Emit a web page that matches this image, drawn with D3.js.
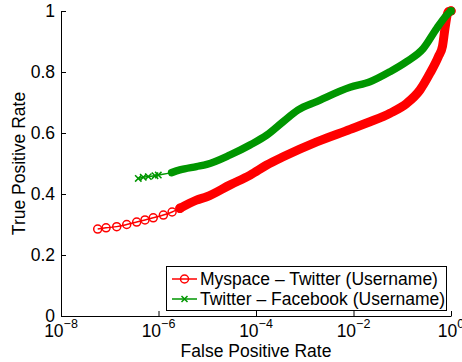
<!DOCTYPE html>
<html>
<head>
<meta charset="utf-8">
<script src="https://cdn.jsdelivr.net/npm/d3@7"></script>
<style>
  body { margin: 0; background: #fff; }
  text { font-family: "Liberation Sans", Arial, sans-serif; fill: #000; }
</style>
</head>
<body>
<div id="chart"></div>
<script>
// ROC curves (false positive rate, true positive rate)
const redFpr = [5.66e-8, 8.4e-8, 1.39e-7, 2.23e-7, 3.57e-7, 5.28e-7, 7.8e-7, 1.26e-6, 1.9e-6, 2.75e-6,
  6.0e-6, 9.8e-6, 2.95e-5, 7.6e-5, 1.66e-4, 3.6e-4, 1.76e-3, 8.5e-3, 0.0218, 0.0561, 0.123, 0.231,
  0.371, 0.55, 0.67, 0.753, 0.88, 1];
const redTpr = [0.285, 0.289, 0.293, 0.300, 0.308, 0.315, 0.322, 0.331, 0.341, 0.353,
  0.380, 0.391, 0.430, 0.462, 0.495, 0.522, 0.571, 0.612, 0.637, 0.665, 0.697, 0.741,
  0.796, 0.850, 0.885, 0.943, 0.998, 1];

const greenFpr = [3.85e-7, 4.87e-7, 6.18e-7, 8.47e-7, 9.9e-7, 1.86e-6, 2.75e-6, 6.0e-6, 9.8e-6, 2.95e-5,
  7.6e-5, 1.66e-4, 3.6e-4, 7.2e-4, 1.76e-3, 8.5e-3, 0.0218, 0.0561, 0.123, 0.27, 0.51, 0.82, 1];
const greenTpr = [0.451, 0.455, 0.457, 0.460, 0.462, 0.470, 0.479, 0.490, 0.497, 0.528,
  0.561, 0.593, 0.637, 0.675, 0.703, 0.750, 0.768, 0.801, 0.834, 0.877, 0.943, 0.987, 1];

const seriesNames = ["Myspace \u2013 Twitter (Username)", "Twitter \u2013 Facebook (Username)"];
const xTicks = [1e-8, 1e-6, 1e-4, 1e-2, 1];
const yTicks = [0, 0.2, 0.4, 0.6, 0.8, 1];

const W = 462, H = 362;
const mLeft = 61, mRight = 451, mTop = 11, mBottom = 316;
const fontSize = "17.5px";

const svg = d3.select("#chart").append("svg")
  .attr("width", W).attr("height", H);

const x = d3.scaleLog().domain([1e-8, 1]).range([mLeft, mRight]);
const y = d3.scaleLinear().domain([0, 1]).range([mBottom, mTop]);

// axes, ticks pointing inward like matlab
svg.append("g")
  .attr("transform", "translate(0," + mBottom + ")")
  .call(d3.axisBottom(x).tickValues(xTicks).tickSizeInner(-5).tickSizeOuter(0).tickFormat(""));
const yAxis = svg.append("g")
  .attr("transform", "translate(" + mLeft + ",0)")
  .call(d3.axisLeft(y).tickValues(yTicks).tickSizeInner(-5).tickSizeOuter(0)
    .tickPadding(6).tickFormat(d3.format("~g")));
svg.selectAll(".domain, .tick line").attr("stroke", "#000").attr("stroke-width", 1);
yAxis.selectAll("text").style("font-size", fontSize).style("font-family", "Liberation Sans, Arial, sans-serif");

// x tick labels with superscript exponents
const xl = svg.append("g").selectAll("text")
  .data(xTicks).enter().append("text")
  .attr("x", d => x(d))
  .attr("y", 337)
  .attr("text-anchor", "middle")
  .style("font-size", fontSize);
xl.append("tspan").text("10");
xl.append("tspan")
  .attr("dy", -9)
  .style("font-size", "12.5px")
  .text(d => d === 1 ? "0" : "\u2212" + Math.round(-Math.log10(d)));

// axis titles
svg.append("text")
  .attr("x", (mLeft + mRight) / 2).attr("y", 357)
  .attr("text-anchor", "middle")
  .style("font-size", fontSize)
  .text("False Positive Rate");
svg.append("text")
  .attr("transform", "translate(25," + (mTop + mBottom) / 2 + ") rotate(-90)")
  .attr("text-anchor", "middle")
  .style("font-size", fontSize)
  .text("True Positive Rate");

const line = d3.line().x(d => x(d[0])).y(d => y(d[1])).curve(d3.curveMonotoneX);

const redPts = redFpr.map((d, i) => [d, redTpr[i]]);
const greenPts = greenFpr.map((d, i) => [d, greenTpr[i]]);

function drawSeries(pts, color, bandFrom, bandWidth, marker, markTo) {
  const g = svg.append("g");
  // dense markers merge into a solid band
  g.append("path")
    .datum(pts.filter(d => d[0] >= bandFrom))
    .attr("d", line)
    .attr("fill", "none")
    .attr("stroke", color)
    .attr("stroke-width", bandWidth)
    .attr("stroke-linejoin", "round")
    .attr("stroke-linecap", "round");
  g.append("path")
    .datum(pts)
    .attr("d", line)
    .attr("fill", "none")
    .attr("stroke", color)
    .attr("stroke-width", 1.5);
  const m = g.selectAll(".m").data(pts.filter(d => d[0] <= markTo || d[0] === 1)).enter();
  if (marker === "o") {
    m.append("circle")
      .attr("cx", d => x(d[0])).attr("cy", d => y(d[1]))
      .attr("r", 4).attr("fill", "none")
      .attr("stroke", color).attr("stroke-width", 1.5);
  } else {
    m.append("path")
      .attr("d", d => {
        const cx = x(d[0]), cy = y(d[1]), s = 3.2;
        return "M" + (cx - s) + "," + (cy - s) + "L" + (cx + s) + "," + (cy + s) +
          "M" + (cx - s) + "," + (cy + s) + "L" + (cx + s) + "," + (cy - s);
      })
      .attr("stroke", color).attr("stroke-width", 1.5);
  }
}

const red = "#ff0000", green = "#009600";
drawSeries(redPts, red, 2.75e-6, 9, "o", 2.75e-6);
drawSeries(greenPts, green, 1.86e-6, 7.5, "x", 9.9e-7);

// legend
const lg = svg.append("g");
lg.append("rect")
  .attr("x", 166.5).attr("y", 266.5).attr("width", 280).attr("height", 44)
  .attr("fill", "#fff").attr("stroke", "#000").attr("stroke-width", 1);
const rows = [{name: seriesNames[0], color: red, m: "o"}, {name: seriesNames[1], color: green, m: "x"}];
rows.forEach((r, i) => {
  const cy = 279 + i * 20;
  lg.append("line").attr("x1", 172).attr("x2", 197).attr("y1", cy).attr("y2", cy)
    .attr("stroke", r.color).attr("stroke-width", 1.5);
  if (r.m === "o") {
    lg.append("circle").attr("cx", 184.5).attr("cy", cy).attr("r", 4)
      .attr("fill", "none").attr("stroke", r.color).attr("stroke-width", 1.5);
  } else {
    const s = 3;
    lg.append("path")
      .attr("d", "M" + (184.5 - s) + "," + (cy - s) + "L" + (184.5 + s) + "," + (cy + s) +
        "M" + (184.5 - s) + "," + (cy + s) + "L" + (184.5 + s) + "," + (cy - s))
      .attr("stroke", r.color).attr("stroke-width", 1.5);
  }
  lg.append("text").attr("x", 200).attr("y", cy + 6)
    .style("font-size", fontSize).text(r.name);
});
</script>
</body>
</html>
